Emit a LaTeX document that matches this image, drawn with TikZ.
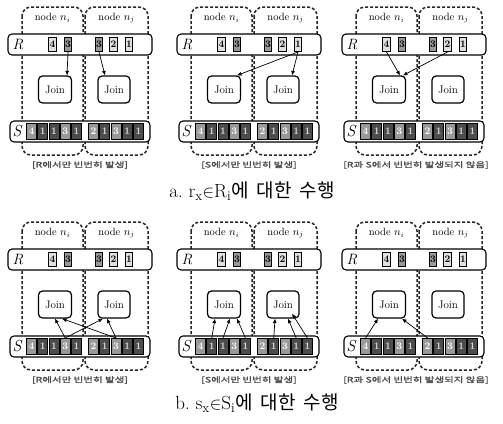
\documentclass[tikz,border=0pt]{standalone}
\usepackage{fontspec}
\newfontfamily\kr{Noto Sans CJK KR}
\newfontfamily\krb[FakeBold=1.2]{Noto Sans CJK KR}
\usetikzlibrary{arrows.meta,calc}
\tikzset{
  nodebox/.style={draw=black!85, line width=1.5pt, dash pattern=on 3pt off 2pt, rounded corners=9pt},
  bar/.style={draw, line width=1.1pt, fill=white, rounded corners=4pt, minimum height=21pt, inner sep=0pt},
  rcell/.style={draw, line width=1pt, minimum width=7.5pt, minimum height=14pt, inner sep=0pt, font=\fontsize{10}{10}\selectfont\bfseries},
  scell/.style={draw, line width=1pt, minimum width=10pt, minimum height=16pt, inner sep=0pt, font=\fontsize{10}{10}\selectfont\bfseries, text=white},
  dk/.style={fill=black!70, text=white!85!black},
  md/.style={fill=black!40},
  lt/.style={fill=black!12},
  joinbox/.style={draw, line width=1.2pt, fill=white, rounded corners=4pt, minimum width=33pt, minimum height=27pt, inner sep=0pt, font=\fontsize{11}{11}\selectfont},
  lbl/.style={font=\fontsize{10.5}{10.5}\selectfont},
  barlbl/.style={font=\fontsize{15}{15}\selectfont\itshape},
  arr/.style={line width=0.7pt, -{Latex[length=4.5pt,width=4pt]}},
  sublabel/.style={font=\krb\fontsize{7.5}{7.5}\selectfont, text=black!70, xscale=1.4},
  maincap/.style={font=\fontsize{19}{19}\selectfont}
}
\newcommand\drawpanel[3]{%
\begin{scope}[shift={(#1,#2)}]
  \draw[nodebox] (14,7) rectangle (75,155);
  \draw[nodebox] (77,7) rectangle (140,155);
  \node[lbl] (#3-ni) at (44.5,18) {node $n_i$};
  \node[lbl] (#3-nj) at (108.5,18) {node $n_j$};
  \node[bar, minimum width=144pt] (#3-R) at (72,44.5) {};
  \node[barlbl] (#3-Rl) at (10,44.5) {R};
  \node[rcell,lt] (#3-R4) at (44.5,44.5) {4};
  \node[rcell,md] (#3-R3a) at (60,44.5) {3};
  \node[rcell,md] (#3-R3b) at (91,44.5) {3};
  \node[rcell,lt] (#3-R2) at (105.5,44.5) {2};
  \node[rcell,lt] (#3-R1) at (121,44.5) {1};
  \node[bar, minimum width=140pt] (#3-S) at (72,131.5) {};
  \node[barlbl, font=\fontsize{16}{16}\selectfont\itshape] (#3-Sl) at (9,131.5) {S};
  \node[scell,md] (#3-Sa1) at (23.6,131.5) {4};
  \node[scell,dk] (#3-Sa2) at (34.8,131.5) {1};
  \node[scell,dk] (#3-Sa3) at (46,131.5) {1};
  \node[scell,md] (#3-Sa4) at (57.2,131.5) {3};
  \node[scell,dk] (#3-Sa5) at (68.4,131.5) {1};
  \node[scell,md] (#3-Sb1) at (85.6,131.5) {2};
  \node[scell,dk] (#3-Sb2) at (96.8,131.5) {1};
  \node[scell,md] (#3-Sb3) at (108,131.5) {3};
  \node[scell,dk] (#3-Sb4) at (119.2,131.5) {1};
  \node[scell,dk] (#3-Sb5) at (130.4,131.5) {1};
  \node[joinbox] (#3-Ji) at (47,89.5) {Join};
  \node[joinbox, minimum width=32pt] (#3-Jj) at (106,89.5) {Join};
\end{scope}}
\begin{document}
\begin{tikzpicture}[x=1pt,y=-1pt]
\useasboundingbox (0,0) rectangle (503,423);
\drawpanel{8}{0}{a1}
\drawpanel{177}{0}{a2}
\drawpanel{342}{0}{a3}
\drawpanel{8}{215}{b1}
\drawpanel{177}{215}{b2}
\drawpanel{342}{215}{b3}
% labels
\node[sublabel] (la1) at (80,165) {[R에서만 빈번히 발생]};
\node[sublabel] (la2) at (249,165) {[S에서만 빈번히 발생]};
\node[sublabel] (la3) at (416,165) {[R과 S에서 빈번히 발생되지 않음]};
\node[sublabel] (lb1) at (80,380) {[R에서만 빈번히 발생]};
\node[sublabel] (lb2) at (249,380) {[S에서만 빈번히 발생]};
\node[sublabel] (lb3) at (416,380) {[R과 S에서 빈번히 발생되지 않음]};
\node[maincap] (capa) at (252,191) {a.\ r\textsubscript{x}$\in$R\textsubscript{i}{\kr 에\hspace{8pt}대한\hspace{8pt}수행}};
\node[maincap] (capb) at (257,403) {b.\ s\textsubscript{x}$\in$S\textsubscript{i}{\kr 에\hspace{8pt}대한\hspace{8pt}수행}};
% arrows a1
\draw[arr] (a1-R3a.south) -- ([xshift=12pt]a1-Ji.north);
\draw[arr] (a1-R3b.south) -- ([xshift=-9pt]a1-Jj.north);
% arrows a2
\draw[arr] (a2-R1.south) -- ([xshift=13pt]a2-Ji.north);
\draw[arr] (a2-R1.south) -- ([xshift=9pt]a2-Jj.north);
% arrows a3
\draw[arr] (a3-R4.south) -- ([xshift=11pt]a3-Ji.north);
\draw[arr] (a3-R2.south) -- ([xshift=14pt]a3-Ji.north);
% arrows b1
\draw[arr] (b1-Sa4.north) -- ([xshift=0pt]b1-Ji.south);
\draw[arr] (b1-Sb3.north) -- ([xshift=7pt]b1-Ji.south);
\draw[arr] (b1-Sa4.north) -- ([xshift=-11pt]b1-Jj.south);
\draw[arr] (b1-Sb3.north) -- ([xshift=-7pt]b1-Jj.south);
% arrows b2
\draw[arr] (b2-Sa2.north) -- ([xshift=-9pt]b2-Ji.south);
\draw[arr] (b2-Sa3.north) -- ([xshift=6pt]b2-Ji.south);
\draw[arr] (b2-Sa5.north) -- ([xshift=13pt]b2-Ji.south);
\draw[arr] (b2-Sb2.north) -- ([xshift=-8pt]b2-Jj.south);
\draw[arr] (b2-Sb4.north) -- ([xshift=5pt]b2-Jj.south);
\draw[arr] (b2-Sb5.north) -- ([xshift=9pt,yshift=5pt]b2-Jj.south);
% arrows b3
\draw[arr] (b3-Sa1.north) -- ([xshift=-11pt]b3-Ji.south);
\draw[arr] (b3-Sb1.north) -- ([xshift=13pt]b3-Ji.south);
\end{tikzpicture}
\end{document}
